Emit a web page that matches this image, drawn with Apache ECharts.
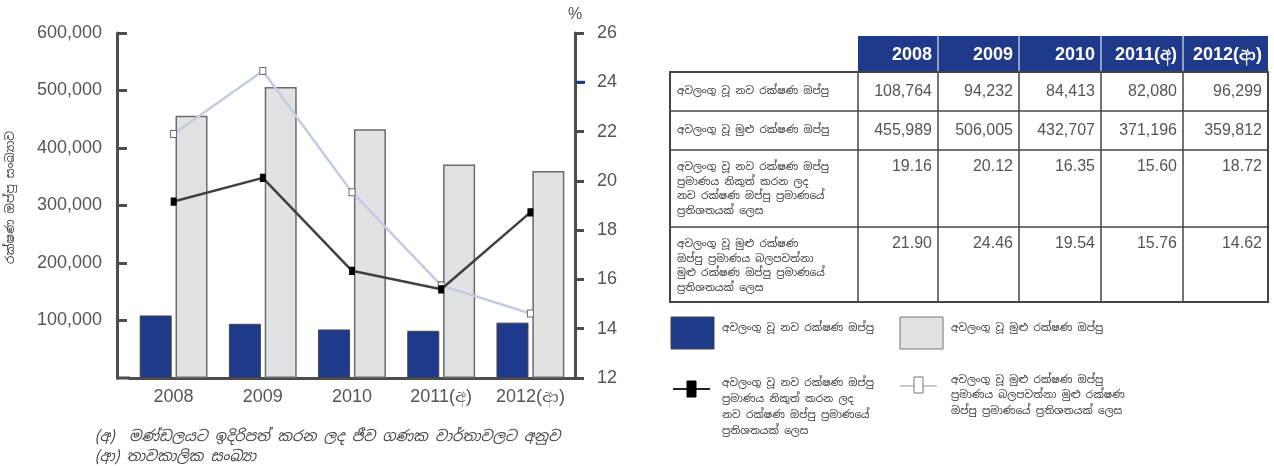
<!DOCTYPE html>
<html><head><meta charset="utf-8">
<script src="https://cdn.jsdelivr.net/npm/echarts@6/dist/echarts.min.js"></script>
<style>html,body{margin:0;padding:0;background:#fff}#c{width:1274px;height:466px}</style>
</head><body><div id="c"></div>
<script>
// ---------- data ----------
const categories = ['2008', '2009', '2010', '2011(අ)', '2012(ආ)'];
const newPolicies = [108764, 94232, 84413, 82080, 96299];
const totalPolicies = [455989, 506005, 432707, 371196, 359812];
const newPct = [19.16, 20.12, 16.35, 15.60, 18.72];
const totalPct = [21.90, 24.46, 19.54, 15.76, 14.62];

const seriesNames = [
  'අවලංගු වූ නව රක්ෂණ ඔප්පු',
  'අවලංගු වූ මුළු රක්ෂණ ඔප්පු',
  'අවලංගු වූ නව රක්ෂණ ඔප්පු\nප්‍රමාණය නිකුත් කරන ලද\nනව රක්ෂණ ඔප්පු ප්‍රමාණයේ\nප්‍රතිශතයක් ලෙස',
  'අවලංගු වූ මුළු රක්ෂණ ඔප්පු\nප්‍රමාණය බලපවත්නා මුළු රක්ෂණ\nඔප්පු ප්‍රමාණයේ ප්‍රතිශතයක් ලෙස'
];
const tableRowLabels = [
  'අවලංගු වූ නව රක්ෂණ ඔප්පු',
  'අවලංගු වූ මුළු රක්ෂණ ඔප්පු',
  'අවලංගු වූ නව රක්ෂණ ඔප්පු\nප්‍රමාණය නිකුත් කරන ලද\nනව රක්ෂණ ඔප්පු ප්‍රමාණයේ\nප්‍රතිශතයක් ලෙස',
  'අවලංගු වූ මුළු රක්ෂණ\nඔප්පු ප්‍රමාණය බලපවත්නා\nමුළු රක්ෂණ ඔප්පු ප්‍රමාණයේ\nප්‍රතිශතයක් ලෙස'
];
const yAxisName = 'රක්ෂණ ඔප්පු සංඛ්‍යාව';
const footnotes = [
  '(අ)  මණ්ඩලයට ඉදිරිපත් කරන ලද ජීව ගණක වාර්තාවලට අනුව',
  '(ආ) තාවකාලික සංඛ්‍යා'
];

// ---------- styles ----------
const SIN = "'Noto Sans Sinhala','Noto Sans',sans-serif";
const NUM = "'Liberation Sans',Arial,sans-serif";
const BLUE = '#1f3a8b';
const GREY = '#e1e2e4';
const AX = '#4d4d4d';
const TXT = '#555';
const SFONT = '10.5px ' + SIN;

// ---------- table (graphic built from arrays) ----------
const colX = [858, 938, 1019, 1101, 1183, 1268];
const tblLeft = 670, headTop = 36, headBot = 72;
const rowTops = [72, 111, 150, 227, 302];
const fmtInt = v => v.toLocaleString('en-US');
const tableRows = [
  newPolicies.map(fmtInt),
  totalPolicies.map(fmtInt),
  newPct.map(v => v.toFixed(2)),
  totalPct.map(v => v.toFixed(2))
];
const g = [];
g.push({type: 'rect', shape: {x: colX[0], y: headTop, width: colX[5] - colX[0], height: headBot - headTop}, style: {fill: BLUE}});
for (let i = 1; i < 5; i++) {
  g.push({type: 'line', shape: {x1: colX[i], y1: headTop, x2: colX[i], y2: headBot}, style: {stroke: '#b9c3de', lineWidth: 1.5}});
}
categories.forEach((c, i) => {
  g.push({type: 'text', x: colX[i + 1] - 6, y: (headTop + headBot) / 2 + 1,
    style: {text: c, fill: '#fff', font: 'bold 18px ' + NUM, align: 'right', verticalAlign: 'middle'}});
});
g.push({type: 'rect', shape: {x: tblLeft, y: rowTops[0], width: colX[5] - tblLeft, height: rowTops[4] - rowTops[0]},
  style: {fill: 'none', stroke: '#444', lineWidth: 2}});
for (let r = 1; r < 4; r++) {
  g.push({type: 'line', shape: {x1: tblLeft, y1: rowTops[r], x2: colX[5], y2: rowTops[r]}, style: {stroke: '#444', lineWidth: 1.5}});
}
for (let i = 0; i < 5; i++) {
  g.push({type: 'line', shape: {x1: colX[i], y1: rowTops[0], x2: colX[i], y2: rowTops[4]}, style: {stroke: '#444', lineWidth: 1.5}});
}
tableRowLabels.forEach((t, r) => {
  const multi = t.indexOf('\n') >= 0;
  g.push({type: 'text', x: 677, y: multi ? rowTops[r] + 10 : (rowTops[r] + rowTops[r + 1]) / 2,
    style: {text: t, fill: '#333', font: SFONT, lineHeight: 14.5, align: 'left', verticalAlign: multi ? 'top' : 'middle'}});
});
tableRows.forEach((row, r) => {
  const multi = r >= 2;
  row.forEach((v, i) => {
    g.push({type: 'text', x: colX[i + 1] - 6, y: multi ? rowTops[r] + 17 : (rowTops[r] + rowTops[r + 1]) / 2,
      style: {text: v, fill: TXT, font: '16px ' + NUM, align: 'right', verticalAlign: 'middle'}});
  });
});

// ---------- legend (graphic) ----------
g.push({type: 'rect', shape: {x: 671, y: 317, width: 43, height: 32}, style: {fill: BLUE, stroke: '#444', lineWidth: 1}});
g.push({type: 'text', x: 722, y: 328, style: {text: seriesNames[0], fill: '#333', font: SFONT, verticalAlign: 'middle'}});
g.push({type: 'rect', shape: {x: 900, y: 317, width: 43, height: 32}, style: {fill: GREY, stroke: '#777', lineWidth: 1}});
g.push({type: 'text', x: 951, y: 328, style: {text: seriesNames[1], fill: '#333', font: SFONT, verticalAlign: 'middle'}});
g.push({type: 'line', shape: {x1: 673, y1: 389, x2: 710, y2: 389}, style: {stroke: '#222', lineWidth: 2}});
g.push({type: 'rect', shape: {x: 687, y: 381, width: 9, height: 16}, style: {fill: '#000', stroke: '#000', lineWidth: 1}});
g.push({type: 'text', x: 722, y: 375, style: {text: seriesNames[2], fill: '#333', font: SFONT, lineHeight: 16, verticalAlign: 'top'}});
g.push({type: 'line', shape: {x1: 900, y1: 386, x2: 937, y2: 386}, style: {stroke: '#c8c8c8', lineWidth: 2}});
g.push({type: 'rect', shape: {x: 914, y: 377, width: 9, height: 16}, style: {fill: '#fff', stroke: '#777', lineWidth: 1}});
g.push({type: 'text', x: 951, y: 372, style: {text: seriesNames[3], fill: '#333', font: SFONT, lineHeight: 15.5, verticalAlign: 'top'}});

// ---------- footnotes & extra axis piece ----------
footnotes.forEach((t, i) => {
  g.push({type: 'text', x: 95, y: 437 + i * 20, style: {text: t, fill: '#444', font: 'italic 14.6px ' + SIN, verticalAlign: 'middle'}});
});
g.push({type: 'line', shape: {x1: 116, y1: 378, x2: 130, y2: 378}, style: {stroke: AX, lineWidth: 3}});

const chart = echarts.init(document.getElementById('c'), null, {renderer: 'canvas'});
chart.setOption({
  animation: false,
  backgroundColor: '#fff',
  grid: {left: 129, right: 699, top: 33, bottom: 88, containLabel: false},
  xAxis: {
    type: 'category', data: categories, boundaryGap: true,
    axisLine: {lineStyle: {color: AX, width: 3}},
    axisTick: {inside: true, length: 8, lineStyle: {color: AX, width: 2}},
    axisLabel: {color: TXT, fontSize: 18, fontFamily: NUM, margin: 10, interval: 0, hideOverlap: false}
  },
  yAxis: [{
    type: 'value', min: 0, max: 600000, interval: 100000, position: 'left', offset: 12,
    name: yAxisName, nameLocation: 'middle', nameRotate: 90, nameGap: 100,
    nameTextStyle: {color: '#444', fontSize: 12, fontFamily: SIN, padding: [0, 0, 0, 16]},
    axisLine: {show: true, lineStyle: {color: AX, width: 3}},
    axisTick: {show: true, inside: true, length: 10, lineStyle: {color: AX, width: 3}},
    axisLabel: {color: TXT, fontSize: 18, fontFamily: NUM, margin: 15, showMinLabel: false,
      formatter: v => v.toLocaleString('en-US')},
    splitLine: {show: false}
  }, {
    type: 'value', min: 12, max: 26, interval: 2, position: 'right',
    name: '%', nameLocation: 'end', nameGap: 10,
    nameTextStyle: {color: TXT, fontSize: 16, fontFamily: NUM},
    axisLine: {show: true, lineStyle: {color: AX, width: 3}},
    axisTick: {show: true, inside: false, length: 9, lineStyle: {color: AX, width: 3}},
    axisLabel: {color: TXT, fontSize: 18, fontFamily: NUM, margin: 22},
    splitLine: {show: false}
  }],
  series: [{
    name: seriesNames[0], type: 'bar', data: newPolicies, barWidth: 32, barGap: '12%',
    itemStyle: {color: BLUE, borderColor: '#444', borderWidth: 1}
  }, {
    name: seriesNames[1], type: 'bar', data: totalPolicies, barWidth: 32, barGap: '12%',
    itemStyle: {color: GREY, borderColor: '#6b6b6b', borderWidth: 1.5}
  }, {
    name: seriesNames[2], type: 'line', yAxisIndex: 1, data: newPct, z: 5,
    symbol: 'rect', symbolSize: [5, 7],
    lineStyle: {color: '#404040', width: 2.5}, itemStyle: {color: '#000', borderColor: '#000', borderWidth: 1}
  }, {
    name: seriesNames[3], type: 'line', yAxisIndex: 1, data: totalPct, z: 4,
    symbol: 'rect', symbolSize: [6, 7],
    lineStyle: {color: '#c3cbe0', width: 2.5}, itemStyle: {color: '#fff', borderColor: '#666', borderWidth: 1}
  }],
  graphic: g
});
// blue highlight on the "24" tick of the right axis (as in the original)
const y24 = chart.convertToPixel({yAxisIndex: 1}, 24);
const axR = chart.convertToPixel({xAxisIndex: 0}, categories[categories.length - 1]);
const gridRight = 1274 - 699;
g.push({type: 'line', z: 100, shape: {x1: gridRight + 1, y1: y24, x2: gridRight + 10, y2: y24}, style: {stroke: BLUE, lineWidth: 3}});
chart.setOption({graphic: g});
</script></body></html>
